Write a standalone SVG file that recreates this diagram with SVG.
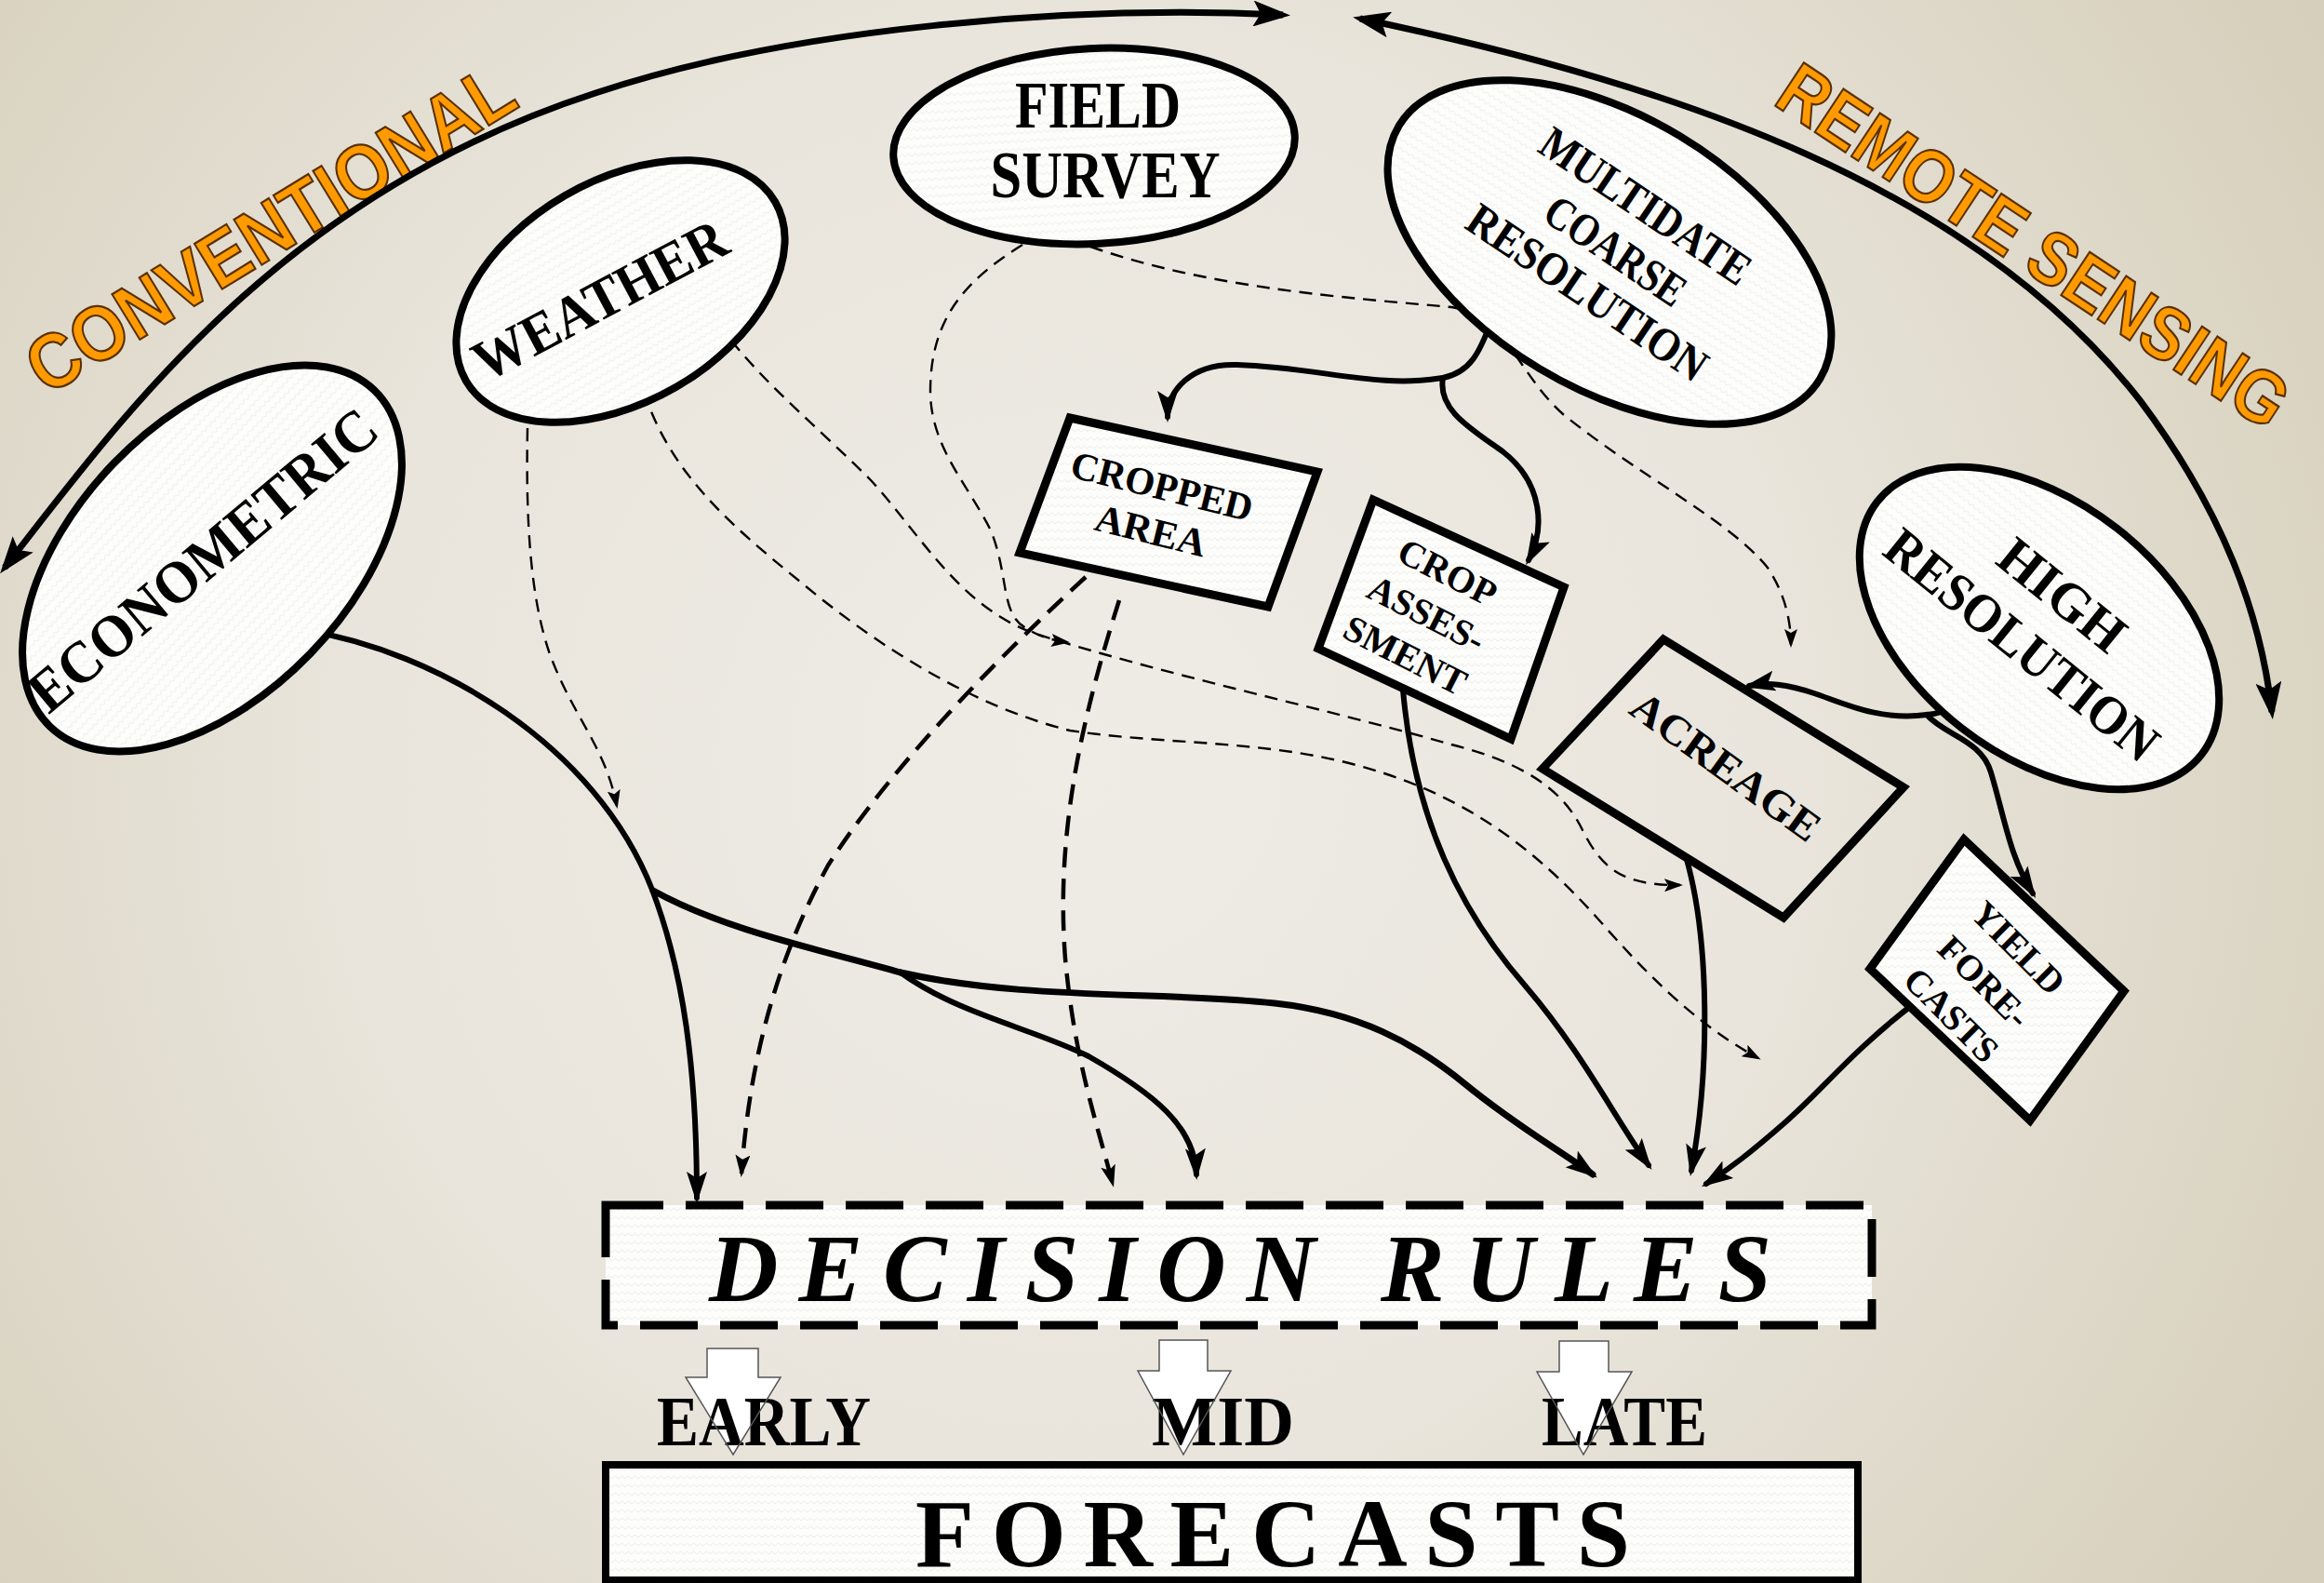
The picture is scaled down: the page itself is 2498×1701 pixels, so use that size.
<svg xmlns="http://www.w3.org/2000/svg" width="2498" height="1701" viewBox="0 0 2498 1701">
<defs>
<radialGradient id="bg" cx="1150" cy="820" r="1550" gradientUnits="userSpaceOnUse">
<stop offset="0" stop-color="#efece6"/>
<stop offset="0.5" stop-color="#e9e5dc"/>
<stop offset="1" stop-color="#d6cfbb"/>
</radialGradient>
<pattern id="zig" width="14" height="9" patternUnits="userSpaceOnUse">
<rect width="14" height="9" fill="#fdfdfc"/>
<path d="M0,5 L3.5,2 L7,5 L10.5,2 L14,5" fill="none" stroke="#ececea" stroke-width="1"/>
</pattern>
<marker id="ah" markerUnits="userSpaceOnUse" markerWidth="34" markerHeight="22" viewBox="0 0 34 22" refX="28" refY="11" orient="auto">
<path d="M0,0 L34,11 L0,22 L7,11 Z" fill="#000"/>
</marker>
<marker id="ahb" markerUnits="userSpaceOnUse" markerWidth="40" markerHeight="28" viewBox="0 0 40 28" refX="32" refY="14" orient="auto-start-reverse">
<path d="M0,0 L40,14 L0,28 L8,14 Z" fill="#000"/>
</marker>
<marker id="ahd" markerUnits="userSpaceOnUse" markerWidth="20" markerHeight="14" viewBox="0 0 20 14" refX="17" refY="7" orient="auto">
<path d="M0,0 L20,7 L0,14 L4,7 Z" fill="#000"/>
</marker>
<marker id="ahk" markerUnits="userSpaceOnUse" markerWidth="24" markerHeight="16" viewBox="0 0 24 16" refX="20" refY="8" orient="auto">
<path d="M0,0 L24,8 L0,16 L5,8 Z" fill="#000"/>
</marker>
</defs>
<style>
.node { fill: url(#zig); stroke: #000; stroke-width: 8; }
.box { fill: url(#zig); stroke: #000; stroke-width: 9; stroke-linejoin: miter; }
.lbl { font-family: "Liberation Serif", "Times New Roman", serif; font-weight: bold; fill: #000; text-anchor: middle; }
.solid { fill: none; stroke: #000; stroke-width: 6; stroke-linecap: round; }
.arc { fill: none; stroke: #000; stroke-width: 7; }
.dash { fill: none; stroke: #000; stroke-width: 2.4; stroke-dasharray: 14 9; }
.dashk { fill: none; stroke: #000; stroke-width: 4.5; stroke-dasharray: 22 12; }
.wa { font-family: "Liberation Sans", Arial, sans-serif; font-weight: bold; fill: #ff9a00; stroke: #5a3000; stroke-width: 2; text-anchor: middle; }
.barrow { fill: #ffffff; stroke: #555; stroke-width: 1.5; }
</style>

<rect x="0" y="0" width="2498" height="1701" fill="url(#bg)"/>

<!-- category labels -->
<text class="wa" font-size="74" transform="translate(290,245) rotate(-31.5) scale(1.01,1.12)" x="0" y="26">CONVENTIONAL</text>
<text class="wa" font-size="72" transform="translate(2186,264) rotate(33.5) scale(0.98,1.12)" x="0" y="25">REMOTE SENSING</text>

<!-- connectors -->
<g id="connectors">
<path class="arc" d="M5,610 C130,450 300,210 640,100 C850,30 1150,5 1379,16" marker-start="url(#ahb)" marker-end="url(#ahb)"/>
<path class="arc" d="M1462,20 C1800,90 2120,200 2300,430 C2390,550 2430,660 2442,765" marker-start="url(#ahb)" marker-end="url(#ahb)"/>

<path class="dash" d="M567,460 C565,560 570,640 590,700 C615,770 650,800 663,866" marker-end="url(#ahd)"/>
<path class="dash" d="M686,399 C710,500 780,560 860,625 C950,700 1050,760 1150,785 C1250,800 1350,795 1450,820 C1560,848 1640,900 1720,990 C1790,1070 1840,1110 1890,1137" marker-end="url(#ahd)"/>
<path class="dash" d="M786,366 C830,420 880,460 936,516 C990,575 1030,650 1110,680 C1250,725 1420,760 1560,800 C1640,820 1680,850 1700,890 C1720,930 1740,952 1806,951" marker-end="url(#ahd)"/>
<path class="dash" d="M1099,263 C1040,300 1000,340 1000,420 C1000,480 1040,520 1065,570 C1085,620 1075,660 1103,675 C1115,683 1130,688 1147,690" marker-end="url(#ahd)"/>
<path class="dash" d="M1172,265 C1300,310 1450,320 1560,330 C1620,340 1630,400 1680,445 C1760,510 1860,560 1900,610 C1920,640 1925,670 1925,693" marker-end="url(#ahd)"/>
<path class="dashk" d="M1167,620 C1080,700 960,820 890,930 C830,1040 805,1150 797,1261" marker-end="url(#ahk)"/>
<path class="dashk" d="M1203,645 C1160,780 1135,900 1145,1030 C1155,1140 1180,1210 1196,1272" marker-end="url(#ahk)"/>

<path class="solid" d="M327,677 C470,700 640,800 701,956 C735,1045 749,1150 749,1287" marker-end="url(#ah)"/>
<path class="solid" style="stroke-width:7" d="M702,957 C780,1000 880,1020 968,1045"/>
<path class="solid" style="stroke-width:7" d="M968,1045 C1100,1075 1250,1065 1370,1078 C1460,1088 1520,1120 1575,1165 C1630,1210 1675,1235 1712,1262" marker-end="url(#ah)"/>
<path class="solid" d="M968,1045 C1030,1090 1110,1105 1170,1135 C1240,1175 1284,1210 1286,1262" marker-end="url(#ah)"/>
<path class="solid" d="M1603,345 C1590,380 1580,400 1551,406 C1480,418 1420,395 1330,392 C1280,390 1255,420 1255,448" marker-end="url(#ah)"/>
<path class="solid" d="M1551,406 C1545,440 1580,460 1615,485 C1660,520 1660,570 1643,602" marker-end="url(#ah)"/>
<path class="solid" d="M2112,729 C2108,755 2095,766 2071,768 C2020,775 1980,755 1950,745 C1920,735 1900,733 1880,737" marker-end="url(#ah)"/>
<path class="solid" d="M2071,768 C2090,790 2130,795 2140,830 C2155,880 2160,920 2185,960" marker-end="url(#ah)"/>
<path class="solid" d="M1508,741 C1520,880 1570,980 1640,1060 C1700,1130 1735,1200 1772,1252" marker-end="url(#ah)"/>
<path class="solid" d="M1812,920 C1838,1010 1838,1150 1818,1258" marker-end="url(#ah)"/>
<path class="solid" d="M2059,1077 C1990,1130 1960,1170 1920,1205 C1880,1240 1860,1255 1834,1272" marker-end="url(#ah)"/>
</g>

<!-- nodes -->
<g id="econometric">
<ellipse class="node" cx="228" cy="600" rx="251" ry="147" transform="rotate(-46 228 600)"/>
<text class="lbl" font-size="64" textLength="468" lengthAdjust="spacingAndGlyphs" transform="translate(218,602) rotate(-40)" x="0" y="21">ECONOMETRIC</text>
</g>
<g id="weather">
<ellipse class="node" cx="667" cy="313" rx="192" ry="119" transform="rotate(-30 667 313)"/>
<text class="lbl" font-size="62" textLength="300" lengthAdjust="spacingAndGlyphs" transform="translate(645,323) rotate(-28)" x="0" y="20">WEATHER</text>
</g>
<g id="field-survey">
<ellipse class="node" cx="1176" cy="157" rx="216" ry="105" transform="rotate(-3 1176 157)"/>
<text class="lbl" font-size="72" textLength="178" lengthAdjust="spacingAndGlyphs" x="1180" y="137">FIELD</text>
<text class="lbl" font-size="72" textLength="247" lengthAdjust="spacingAndGlyphs" x="1188" y="212">SURVEY</text>
</g>
<g id="multidate">
<ellipse class="node" cx="1730" cy="271" rx="264" ry="146" transform="rotate(31 1730 271)"/>
<g transform="translate(1736,270) rotate(34)">
<text class="lbl" font-size="50" textLength="262" lengthAdjust="spacingAndGlyphs" x="0" y="-42">MULTIDATE</text>
<text class="lbl" font-size="50" textLength="172" lengthAdjust="spacingAndGlyphs" x="0" y="16">COARSE</text>
<text class="lbl" font-size="50" textLength="300" lengthAdjust="spacingAndGlyphs" x="0" y="70">RESOLUTION</text>
</g>
</g>
<g id="high-resolution">
<ellipse class="node" cx="2192" cy="675" rx="221" ry="136" transform="rotate(38 2192 675)"/>
<g transform="translate(2195,666) rotate(39)">
<text class="lbl" font-size="58" textLength="158" lengthAdjust="spacingAndGlyphs" x="0" y="-15">HIGH</text>
<text class="lbl" font-size="58" textLength="360" lengthAdjust="spacingAndGlyphs" x="0" y="54">RESOLUTION</text>
</g>
</g>
<g id="cropped-area">
<polygon class="box" points="1150,449 1416,507 1363,652 1096,594"/>
<g transform="translate(1243,546) rotate(14)">
<text class="lbl" font-size="42" textLength="200" lengthAdjust="spacingAndGlyphs" x="0" y="-10">CROPPED</text>
<text class="lbl" font-size="42" textLength="122" lengthAdjust="spacingAndGlyphs" x="0" y="39">AREA</text>
</g>
</g>
<g id="crop-assessment">
<polygon class="box" points="1476,537 1681,631 1624,794 1417,697"/>
<g transform="translate(1533,660) rotate(27)">
<text class="lbl" font-size="40" x="0" y="-37">CROP</text>
<text class="lbl" font-size="40" x="0" y="13">ASSES-</text>
<text class="lbl" font-size="40" x="0" y="63">SMENT</text>
</g>
</g>
<g id="acreage">
<polygon class="box" style="fill:none" points="1788,687 2046,846 1917,986 1658,826"/>
<text class="lbl" font-size="46" textLength="240" lengthAdjust="spacingAndGlyphs" transform="translate(1855,824) rotate(36)" x="0" y="15">ACREAGE</text>
</g>
<g id="yield-forecasts">
<polygon class="box" points="2111,902 2283,1065 2182,1204 2010,1041"/>
<g transform="translate(2132,1056) rotate(45)">
<text class="lbl" font-size="39" x="0" y="-40">YIELD</text>
<text class="lbl" font-size="39" x="0" y="12">FORE-</text>
<text class="lbl" font-size="39" x="0" y="62">CASTS</text>
</g>
</g>
<g id="decision-rules">
<rect x="651" y="1295" width="1361" height="129" fill="url(#zig)" stroke="#000" stroke-width="9" stroke-dasharray="62 24"/>
<text font-family="Liberation Serif, Times New Roman, serif" font-weight="bold" font-style="italic" font-size="103" x="762" y="1398" textLength="1142" lengthAdjust="spacing">DECISION RULES</text>
</g>
<g id="timing">
<polygon class="barrow" style="stroke:none" points="760,1449 815,1449 815,1480 839,1480 788,1563 737,1480 760,1480"/>
<polygon class="barrow" style="stroke:none" points="1246,1440 1298,1440 1298,1473 1323,1473 1272,1563 1223,1473 1246,1473"/>
<polygon class="barrow" style="stroke:none" points="1676,1441 1729,1441 1729,1474 1754,1474 1702,1563 1652,1474 1676,1474"/>
<text class="lbl" font-size="76" x="706" y="1553" textLength="230" lengthAdjust="spacingAndGlyphs" style="text-anchor:start">EARLY</text>
<text class="lbl" font-size="76" x="1238" y="1553" textLength="153" lengthAdjust="spacingAndGlyphs" style="text-anchor:start">MID</text>
<text class="lbl" font-size="76" x="1657" y="1553" textLength="178" lengthAdjust="spacingAndGlyphs" style="text-anchor:start">LATE</text>
<polygon class="barrow" style="fill:none" points="760,1449 815,1449 815,1480 839,1480 788,1563 737,1480 760,1480"/>
<polygon class="barrow" style="fill:none" points="1246,1440 1298,1440 1298,1473 1323,1473 1272,1563 1223,1473 1246,1473"/>
<polygon class="barrow" style="fill:none" points="1676,1441 1729,1441 1729,1474 1754,1474 1702,1563 1652,1474 1676,1474"/>
</g>
<g id="forecasts">
<rect x="651" y="1574" width="1346" height="124" fill="url(#zig)" stroke="#000" stroke-width="8"/>
<text font-family="Liberation Serif, Times New Roman, serif" font-weight="bold" font-size="103" x="984" y="1683" textLength="768" lengthAdjust="spacing">FORECASTS</text>
</g>
</svg>
